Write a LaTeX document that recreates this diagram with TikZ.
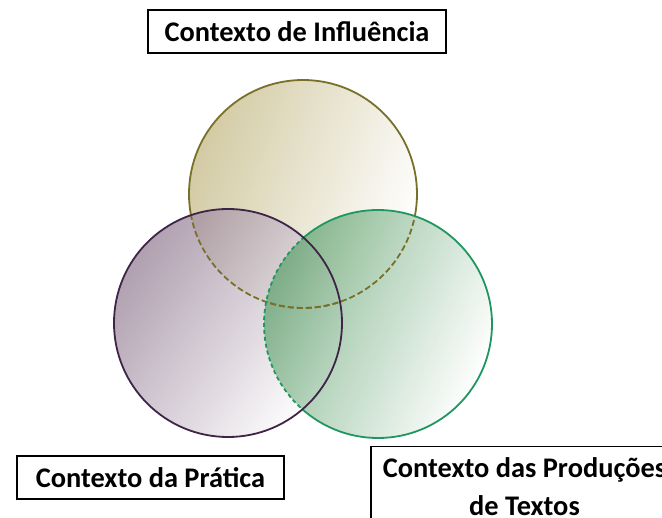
\documentclass[tikz,border=0pt]{standalone}
\usepackage{fontspec}
\setmainfont{Carlito}
\definecolor{inflline}{RGB}{120,112,40}
\definecolor{inflfill}{RGB}{204,194,148}
\definecolor{praline}{RGB}{62,36,72}
\definecolor{prafill}{RGB}{150,128,150}
\definecolor{prodline}{RGB}{32,150,96}
\definecolor{prodfill}{RGB}{96,162,110}
\tikzset{
  rotulo/.style={draw,line width=1.2pt,inner sep=0pt,minimum height=43pt,
    font=\fontsize{28.4}{35}\selectfont\bfseries},
  contorno/.style={line width=1.8pt},
  tracejado/.style={line width=1.8pt,dash pattern=on 6pt off 3pt},
}
\begin{document}
\begin{tikzpicture}[x=1pt,y=-1pt]
  \useasboundingbox (0,0) rectangle (662,518);
  \fill[white] (0,0) rectangle (662,518);
  \coordinate (infl) at (303,194);
  \coordinate (prat) at (228,323);
  \coordinate (prod) at (378,324);
  \def\raio{114pt}
  % preenchimentos
  \shade[left color=inflfill,right color=white,shading angle=70,fill opacity=0.85]
    (infl) circle[radius=\raio];
  \shade[left color=prafill,right color=white,shading angle=55,fill opacity=0.75]
    (prat) circle[radius=\raio];
  \shade[left color=prodfill,right color=white,shading angle=65,fill opacity=0.75]
    (prod) circle[radius=\raio];
  % contornos
  \begin{scope}[even odd rule]
    \clip (-50,-50) rectangle (712,568) (prat) circle[radius=\raio];
    \clip (-50,-50) rectangle (712,568) (prod) circle[radius=\raio];
    \draw[contorno,inflline] (infl) circle[radius=\raio];
  \end{scope}
  \begin{scope}
    \clip (prat) circle[radius=\raio];
    \draw[tracejado,inflline] (infl) circle[radius=\raio];
  \end{scope}
  \begin{scope}
    \clip (prod) circle[radius=\raio];
    \draw[tracejado,inflline] (infl) circle[radius=\raio];
  \end{scope}
  \begin{scope}[even odd rule]
    \clip (-50,-50) rectangle (712,568) (prat) circle[radius=\raio];
    \draw[contorno,prodline] (prod) circle[radius=\raio];
  \end{scope}
  \begin{scope}
    \clip (prat) circle[radius=\raio];
    \draw[contorno,prodline,dash pattern=on 4pt off 3pt] (prod) circle[radius=\raio];
  \end{scope}
  \draw[contorno,praline] (prat) circle[radius=\raio];
  % rotulos
  \draw
    (297,31.5) node[rotulo,minimum width=298pt,text height=21pt,text depth=1pt] (influencia) {Contexto de Influência}
    (150.5,477.5) node[rotulo,minimum width=267pt,text height=21pt,text depth=1pt] (pratica) {Contexto da Prática}
    (524.5,446) node[rotulo,anchor=north,minimum width=307pt,inner ysep=11pt,align=center] (producao) {Contexto das Produções\\[3pt]de Textos};
\end{tikzpicture}
\end{document}
